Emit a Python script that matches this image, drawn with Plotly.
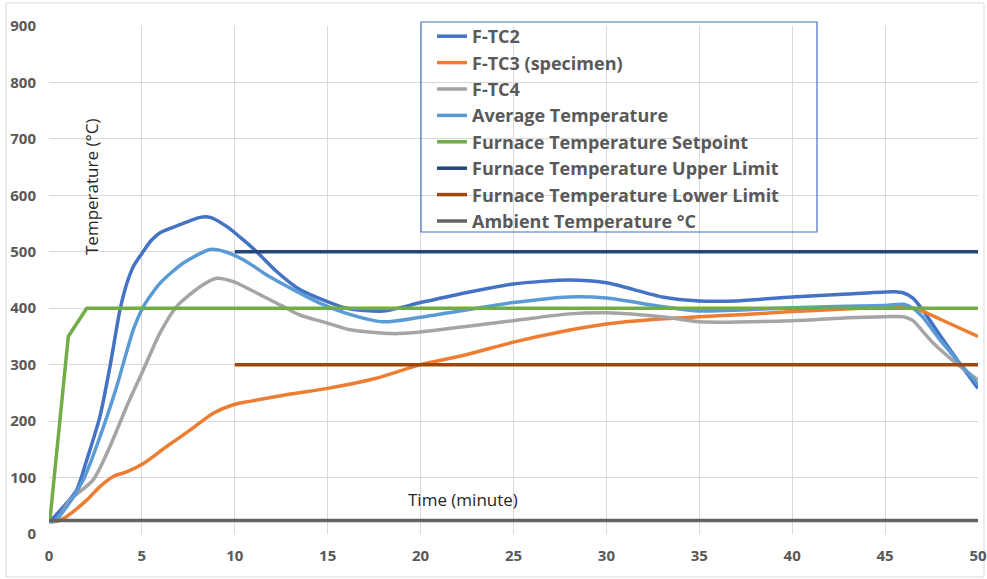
import plotly.graph_objects as go

# ---------------- data ----------------
tc2_t = [0.05, 0.77, 1.49, 2.03, 2.74, 3.3, 3.82, 4.2, 4.54, 5.06, 5.5, 6.0, 7.05, 8.13, 8.67, 9.56, 10.46, 11.18, 12.25, 13.5, 14.95, 16.0, 18.0, 20.0, 22.5, 25.0, 28.0, 30.0, 33.0, 35.0, 37.0, 40.0, 43.0, 45.5, 46.0, 46.5, 47.0, 48.0, 49.0, 50.0]
tc2_v = [22, 48, 78, 131, 208, 300, 397, 445, 474, 500, 520, 534, 548, 561, 561, 545, 521, 500, 465, 433, 412, 400, 395, 410, 428, 443, 450, 445, 420, 413, 413, 420, 425, 429, 427, 418, 398, 350, 303, 258]

tc3_t = [0.0, 0.5, 0.95, 2.03, 2.74, 3.46, 4.18, 5.08, 6.33, 7.59, 8.84, 9.92, 10.8, 13.0, 15.0, 17.5, 20.0, 22.5, 25.0, 27.5, 30.0, 32.5, 35.0, 37.5, 40.0, 42.5, 45.0, 46.0, 47.0, 48.0, 49.0, 50.0]
tc3_v = [22, 23, 31, 60, 84, 102, 110, 125, 155, 184, 214, 229, 235, 248, 258, 275, 300, 318, 340, 358, 372, 380, 385, 389, 394, 398, 402, 404, 395, 380, 365, 350]

tc4_t = [0.0, 0.4, 1.13, 2.38, 3.28, 4.18, 5.08, 5.97, 6.87, 8.13, 9.03, 9.92, 11.18, 12.43, 13.5, 14.95, 16.2, 18.5, 20.0, 25.0, 28.0, 30.0, 33.0, 35.0, 40.0, 43.0, 45.0, 46.0, 46.5, 47.0, 47.6, 48.85, 50.0]
tc4_v = [22, 24, 60, 96, 155, 226, 291, 356, 403, 438, 453, 447, 427, 406, 388, 374, 362, 355, 358, 378, 390, 392, 385, 376, 378, 383, 385, 385, 378, 360, 338, 302, 273]

avg_t = [0.0, 0.23, 0.95, 1.85, 2.74, 3.64, 4.54, 5.08, 5.97, 7.23, 8.67, 9.38, 10.46, 11.72, 13.15, 14.58, 16.0, 18.0, 20.0, 25.0, 28.0, 30.0, 33.0, 35.0, 40.0, 45.0, 46.0, 46.5, 47.0, 48.0, 49.0, 50.0]
avg_v = [22, 22, 48, 96, 172, 261, 362, 403, 444, 480, 504, 501, 486, 459, 433, 409, 391, 376, 384, 410, 420, 418, 403, 395, 401, 405, 407, 400, 385, 342, 303, 265]

sp_t = [0.05, 1.04, 2.03, 50.0]
sp_v = [25, 350, 400, 400]

upper_t = [10, 50]
upper_v = [500, 500]
lower_t = [10, 50]
lower_v = [300, 300]
amb_t = [0, 50]
amb_v = [24, 24]

x_ticks = list(range(0, 51, 5))
y_ticks = list(range(0, 901, 100))

# ---------------- figure ----------------
fig = go.Figure()

def add(name, x, y, color, shape="spline"):
    fig.add_trace(go.Scatter(
        x=x, y=y, name=name, mode="lines",
        line=dict(color=color, width=3.5, shape=shape, smoothing=0.7),
    ))

add("F-TC2", tc2_t, tc2_v, "#4472C4")
add("F-TC3 (specimen)", tc3_t, tc3_v, "#ED7D31")
add("F-TC4", tc4_t, tc4_v, "#A5A5A5")
add("Average Temperature", avg_t, avg_v, "#5B9BD5")
add("Furnace Temperature Setpoint", sp_t, sp_v, "#70AD47", "linear")
add("Furnace Temperature Upper Limit", upper_t, upper_v, "#264478", "linear")
add("Furnace Temperature Lower Limit", lower_t, lower_v, "#9E480E", "linear")
add("Ambient Temperature °C", amb_t, amb_v, "#636363", "linear")

tickfont = dict(family="Open Sans", size=15, color="#595959", weight="bold")

W, H = 987, 579
L, R, T, B = 49, 9, 26, 45
PW, PH = W - L - R, H - T - B

def px(xp):
    return (xp - L) / PW

def py(yp):
    return (H - B - yp) / PH

fig.update_layout(
    width=W, height=H,
    margin=dict(l=L, r=R, t=T, b=B, autoexpand=False),
    paper_bgcolor="white", plot_bgcolor="white",
    font=dict(family="Open Sans", color="#595959"),
    xaxis=dict(range=[0, 50], tickvals=x_ticks, showgrid=True, gridcolor="#D9D9D9",
               gridwidth=1, zeroline=False, showline=False, tickfont=tickfont,
               ticks="", automargin=False, ticklabeloverflow="allow",
               ticklabelstandoff=11, fixedrange=True),
    yaxis=dict(range=[0, 900], tickvals=y_ticks, showgrid=True, gridcolor="#D9D9D9",
               gridwidth=1, zeroline=False, showline=False, tickfont=tickfont,
               ticks="", automargin=False, ticklabeloverflow="allow",
               ticklabelstandoff=12, fixedrange=True),
    legend=dict(x=px(432), y=py(18), xanchor="left", yanchor="top",
                borderwidth=0, bgcolor="rgba(0,0,0,0)",
                font=dict(family="Open Sans", size=18, color="#595959", weight="bold"),
                tracegroupgap=0, itemwidth=30),
    showlegend=True,
)

# legend frame (gridlines show through in the reference)
fig.add_shape(type="rect", xref="paper", yref="paper",
              x0=px(421), x1=px(817), y0=py(232), y1=py(22),
              line=dict(color="#4472C4", width=1.2))

fig.add_annotation(text="Temperature (°C)", x=px(91), y=py(187),
                   xref="paper", yref="paper", showarrow=False, textangle=-90,
                   xanchor="center", yanchor="middle",
                   font=dict(family="Open Sans", size=17, color="#262626"))

fig.add_annotation(text="Time (minute)", x=px(463), y=py(499),
                   xref="paper", yref="paper", showarrow=False,
                   xanchor="center", yanchor="middle",
                   font=dict(family="Open Sans", size=17, color="#262626"))

# outer chart frame
fig.add_shape(type="rect", xref="paper", yref="paper",
              x0=px(6), x1=px(984), y0=py(577), y1=py(3),
              line=dict(color="#D9D9D9", width=1), layer="below")

fig.write_html("out.html", config={"displayModeBar": False},
               post_script="document.body.style.margin='0';document.body.style.overflow='hidden';")
